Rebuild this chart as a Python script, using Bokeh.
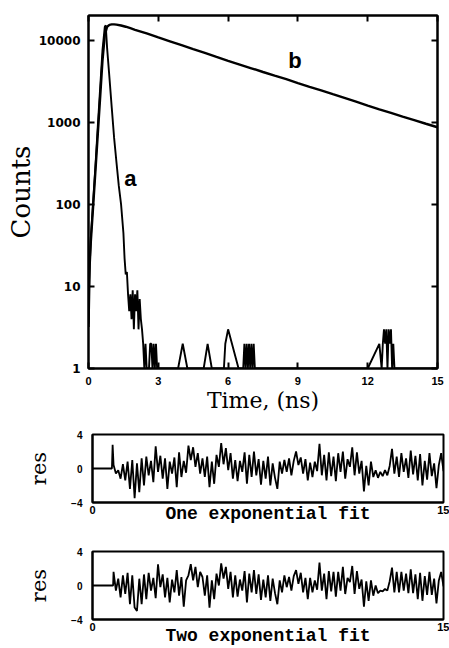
from bokeh.plotting import figure
from bokeh.models import LinearAxis, LogAxis, FixedTicker, Label, Range1d, PrintfTickFormatter
from bokeh.layouts import column
from bokeh.embed import file_html
from bokeh.resources import INLINE
import numpy as np

# ---------------- data ----------------
# curve a : instrument response (counts, zero counts shown at the floor 1)
time_a = [0.0, 0.03, 0.1, 0.2, 0.3, 0.4, 0.5, 0.6, 0.7, 0.74,
          0.8, 0.9, 1.0, 1.1, 1.2, 1.3, 1.4, 1.5, 1.55, 1.6,
          1.65, 1.7, 1.75, 1.8, 1.85, 1.9, 1.95, 2.0, 2.05, 2.1,
          2.15, 2.2, 2.25, 2.3, 2.35, 2.4, 2.45, 2.5, 2.55, 2.6,
          2.65, 2.7, 2.75, 2.8, 2.85, 2.9, 2.95, 3.0, 3.85, 4.05,
          4.25, 4.95, 5.12, 5.3, 5.82, 5.88, 6.0, 6.45, 6.65, 6.7,
          6.75, 6.8, 6.85, 6.9, 6.95, 7.0, 7.05, 7.1, 7.15, 7.2,
          12.0, 12.5, 12.6, 12.65, 12.7, 12.75, 12.8, 12.85, 12.9, 12.95,
          13.0, 13.05, 13.1, 13.15, 15.0]
counts_a = [3.5, 12, 40, 110, 300, 900, 2600, 7500, 14500, 15200,
            8000, 3500, 1500, 650, 330, 170, 100, 45, 22, 14,
            15, 8, 5, 8, 4, 9, 3, 8, 5, 9,
            3, 7, 4, 3, 2, 1, 2, 1, 1, 1,
            2, 2, 1, 2, 1, 2, 1, 1, 1, 2,
            1, 1, 2, 1, 1, 2, 3, 1, 1, 2,
            1, 2, 1, 2, 1, 2, 1, 2, 1, 1,
            1, 2, 1, 2, 3, 2, 3, 1, 3, 2,
            3, 1, 2, 1, 1]

# curve b : fluorescence decay
time_b = [0.0, 0.05, 0.1, 0.2, 0.3, 0.4, 0.5, 0.6, 0.7, 0.8, 0.9, 1.0, 1.1, 1.2,
          1.4, 1.6, 1.8, 2.0, 2.5, 3.0, 3.5, 4.0, 4.5, 5.0, 5.5, 6.0, 6.5, 7.0,
          7.5, 8.0, 8.5, 9.0, 9.5, 10.0, 10.5, 11.0, 11.5, 12.0, 12.5, 13.0,
          13.5, 14.0, 14.5, 15.0]
counts_b = [3.2, 18, 35, 95, 260, 720, 2000, 5600, 11500, 14600, 15400, 15600, 15600, 15500,
            15100, 14600, 14000, 13400, 12100, 10800, 9700, 8700, 7800, 7000, 6250, 5600, 5050, 4550,
            4100, 3700, 3350, 3000, 2700, 2450, 2200, 1980, 1780, 1600, 1440, 1300,
            1170, 1060, 960, 870]

x_ticks_top = [0, 3, 6, 9, 12, 15]
y_ticks_top = [1, 10, 100, 1000, 10000]

# residuals: flat zero before the pulse, then one value every 0.1 ns from 0.9 ns
res_lead_t1 = [0.0, 0.83, 0.86]
res_lead_v1 = [0.0, 0.0, 2.8]
res1 = [0.4, -0.6, -0.2, -1.2, 0.5, -1.4, 0.8, -2.4, 1.0, -3.5,
        0.6, -2.8, 1.2, -2.0, 1.4, -0.8, 0.9, -1.6, 2.6, -0.4,
        1.5, -1.2, 1.2, -2.4, 0.8, -0.6, 1.3, -2.2, 1.9, -1.0,
        0.9, -0.5, 2.7, 1.0, 2.5, 0.2, 1.8, -0.6, 1.2, -1.0,
        1.4, -2.2, 0.8, -1.8, 1.6, 0.2, 3.0, 0.5, 2.4, -0.2,
        1.8, -1.2, 1.0, -1.5, 0.9, -0.4, 1.9, -1.8, 1.6, -1.0,
        2.0, -0.8, 1.1, -1.9, 0.9, -1.2, 1.4, -2.0, 0.6, -1.1,
        -2.4, 0.8, -0.6, 1.0, -0.4, 1.2, -0.8, 0.9, 2.0, 0.4,
        1.3, -0.6, 1.1, -1.4, 0.7, -1.0, 0.8, -0.3, 2.9, -0.8,
        1.6, -1.4, 1.9, -0.9, 1.4, -1.5, 1.8, -0.4, 2.0, -1.2,
        1.1, 0.2, 2.5, -0.8, 1.9, -0.6, 0.9, -2.7, 0.3, -2.0,
        0.8, -1.0, -0.2, -1.1, -0.4, -0.9, -0.2, -0.8, 0.3, 2.3,
        -0.6, 1.4, -1.0, 1.8, -0.4, 1.2, -1.1, 2.1, -0.7, 1.5,
        -1.4, 1.7, -2.0, 0.9, -1.3, 1.8, -0.9, 0.6, -2.3, 0.4,
        1.8, -0.3]

res_lead_t2 = [0.0, 0.88]
res_lead_v2 = [0.0, 0.0]
res2 = [1.6, -0.6, 0.8, -1.4, 1.2, -1.0, 1.5, -2.2, 1.2, -2.6,
        -3.0, 0.8, -2.2, 1.3, -1.6, 1.5, -0.6, 0.9, -1.5, 2.5,
        -0.2, 1.3, -1.4, 0.9, -2.0, 0.7, -0.8, 1.8, -1.2, 1.0,
        -2.5, 0.6, 1.2, 2.5, 0.6, 2.2, -0.2, 1.6, 1.0, -1.2,
        1.2, -2.6, 0.6, -1.6, 1.4, 0.0, 2.6, 0.8, 2.2, -0.4,
        1.6, -1.4, 1.2, -1.3, 0.7, -0.6, 1.7, -2.0, 1.4, -0.8,
        1.8, -1.0, 1.3, -1.7, 0.7, -1.4, 1.2, -1.8, 0.8, -0.9,
        -2.2, 0.6, -0.8, 1.2, -0.2, 1.0, -0.6, 1.1, 1.8, 0.2,
        1.5, -0.8, 0.9, -1.6, 0.9, -0.8, 0.6, -0.5, 2.7, -0.6,
        1.4, -1.6, 1.7, -0.7, 1.6, -1.3, 1.6, -0.6, 2.2, -1.0,
        0.9, 0.4, 2.3, -1.0, 1.7, -0.4, 0.7, -2.5, 0.5, -1.8,
        0.6, -1.2, 0.0, -0.9, -0.6, -0.7, -0.4, -0.6, 0.5, 2.1,
        -0.8, 1.6, -0.8, 1.6, -0.6, 1.4, -0.9, 1.9, -0.9, 1.3,
        -1.6, 1.5, -1.8, 1.1, -1.1, 1.6, -1.1, 0.8, -2.1, 0.6,
        1.6, -0.1]

res_ticks = [-4, 0, 4]
res_x_ticks = [0, 15]

t1 = res_lead_t1 + [float(x) for x in np.round(0.9 + 0.1 * np.arange(len(res1)), 2)]
v1 = res_lead_v1 + res1
t2 = res_lead_t2 + [float(x) for x in np.round(0.9 + 0.1 * np.arange(len(res2)), 2)]
v2 = res_lead_v2 + res2

# ---------------- styling helpers ----------------
W = 449


def base_style(p):
    p.grid.visible = False
    p.outline_line_color = "black"
    p.outline_line_width = 2
    p.background_fill_color = "white"
    p.border_fill_color = "white"
    p.frame_align = False


def axis_style(ax, ticks, font, size, standoff, tick_in=6, show_ticks=True):
    ax.ticker = FixedTicker(ticks=ticks)
    ax.axis_line_color = "black"
    ax.axis_line_width = 2
    ax.major_tick_in = tick_in
    ax.major_tick_out = 0
    ax.major_tick_line_width = 2
    ax.major_tick_line_color = "black" if show_ticks else None
    ax.minor_tick_line_color = None
    ax.major_label_text_font = font
    ax.major_label_text_font_style = "bold"
    ax.major_label_text_font_size = size
    ax.major_label_text_color = "black"
    ax.major_label_standoff = standoff
    ax.axis_label_text_color = "black"


# ---------------- top panel ----------------
p1 = figure(width=W, height=416, x_range=Range1d(0, 15), y_range=Range1d(1, 20000),
            y_axis_type="log", output_backend="svg", toolbar_location=None,
            min_border_left=88, min_border_right=12, min_border_top=15, min_border_bottom=48)
base_style(p1)

p1.line(time_b, counts_b, color="black", line_width=2.4)
p1.line(time_a, counts_a, color="black", line_width=1.9)

xa = p1.xaxis[0]
axis_style(xa, x_ticks_top, "Liberation Sans", "11px", 8)
xa.axis_label = "Time, (ns)"
xa.axis_label_text_font = "DejaVu Serif"
xa.axis_label_text_font_style = "normal"
xa.axis_label_text_font_size = "22px"
xa.axis_label_standoff = 0

ya = p1.yaxis[0]
axis_style(ya, y_ticks_top, "DejaVu Sans", "12px", 8)
ya.formatter = PrintfTickFormatter(format="%d")
ya.axis_label = "Counts"
ya.axis_label_text_font = "DejaVu Serif"
ya.axis_label_text_font_style = "normal"
ya.axis_label_text_font_size = "26px"
ya.axis_label_standoff = 0

# mirrored axes carrying only the inward ticks
top_ax = LinearAxis()
axis_style(top_ax, x_ticks_top, "Liberation Sans", "1px", 0)
top_ax.major_label_text_color = None
p1.add_layout(top_ax, "above")
right_ax = LogAxis()
axis_style(right_ax, y_ticks_top, "Liberation Sans", "1px", 0)
right_ax.major_label_text_color = None
p1.add_layout(right_ax, "right")

p1.add_layout(Label(x=1.8, y=208, text="a", text_font="Liberation Sans", text_font_style="bold",
                    text_font_size="22px", text_align="center", text_baseline="middle",
                    text_color="black"))
p1.add_layout(Label(x=8.87, y=5700, text="b", text_font="Liberation Sans", text_font_style="bold",
                    text_font_size="22px", text_align="center", text_baseline="middle",
                    text_color="black"))


# ---------------- residual panels ----------------
def residual_panel(t, v, title, height, border_top, border_bottom, title_standoff):
    p = figure(width=W, height=height, x_range=Range1d(0, 15), y_range=Range1d(-4, 4),
               output_backend="svg", toolbar_location=None,
               min_border_left=92, min_border_right=6,
               min_border_top=border_top, min_border_bottom=border_bottom)
    base_style(p)
    p.line(t, v, color="black", line_width=1.8)
    ax = p.xaxis[0]
    axis_style(ax, res_x_ticks, "Liberation Sans", "11px", 3, show_ticks=False)
    ax.axis_label = title
    ax.axis_label_text_font = "Liberation Mono"
    ax.axis_label_text_font_style = "bold"
    ax.axis_label_text_font_size = "18px"
    ax.axis_label_standoff = title_standoff
    ay = p.yaxis[0]
    axis_style(ay, res_ticks, "Liberation Sans", "10px", 10, show_ticks=False)
    ay.major_label_overrides = {-4: "\u22124", 0: "0", 4: "4"}
    ay.axis_label = "res"
    ay.axis_label_text_font = "DejaVu Serif"
    ay.axis_label_text_font_style = "normal"
    ay.axis_label_text_font_size = "21px"
    ay.axis_label_standoff = 17
    return p


p2 = residual_panel(t1, v1, "One exponential fit", 112, 18, 26, -13)
p3 = residual_panel(t2, v2, "Two exponential fit", 120, 23, 29, -8)

layout = column(p1, p2, p3)
open("out.html", "w").write(file_html(layout, INLINE))
